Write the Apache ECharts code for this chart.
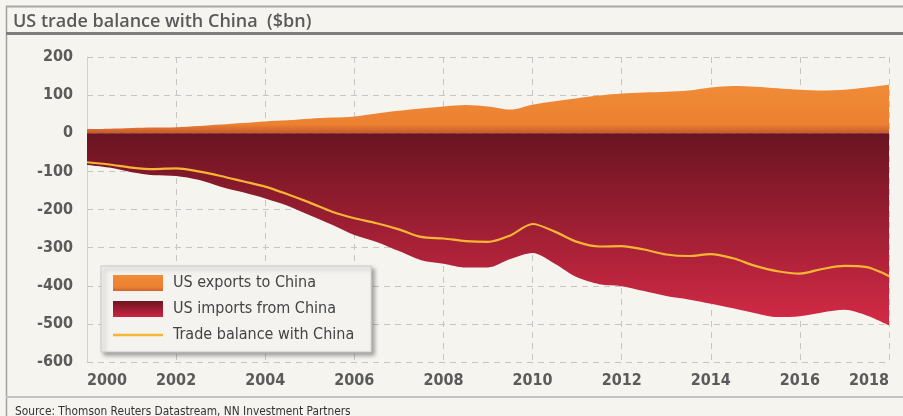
<!DOCTYPE html>
<html>
<head>
<meta charset="utf-8">
<script src="https://cdn.jsdelivr.net/npm/echarts@6/dist/echarts.min.js"></script>
<style>
html,body{margin:0;padding:0;background:#f6f4ef;}
#c{width:903px;height:416px;}
</style>
</head>
<body>
<div id="c"></div>
<script>
const years = [2000,2000.5,2001,2001.5,2002,2002.5,2003,2003.5,2004,2004.5,2005,2005.5,2006,2006.5,2007,2007.5,2008,2008.5,2009,2009.5,2010,2010.5,2011,2011.5,2012,2012.5,2013,2013.5,2014,2014.5,2015,2015.5,2016,2016.5,2017,2017.5,2018];
const exportsToChina = [11,12,14,15,16,19,23,27,31,34,38,41,44,52,59,65,70,74,70,62,75,84,92,99,104,107,109,112,120,124,122,118,114,112,114,120,127];
const importsFromChina = [-83,-90,-102,-110,-112,-122,-140,-155,-171,-190,-215,-240,-267,-285,-309,-333,-342,-352,-352,-330,-314,-342,-378,-396,-401,-414,-427,-436,-447,-459,-472,-482,-480,-470,-463,-478,-504];
const tradeBalance = [-76,-82,-90,-94,-92,-100,-112,-126,-140,-160,-182,-206,-223,-236,-252,-272,-276,-283,-285,-268,-238,-258,-285,-297,-296,-305,-318,-322,-317,-328,-348,-362,-368,-356,-348,-351,-375];
const seriesNames = ['US exports to China','US imports from China','Trade balance with China'];
const titleText = 'US trade balance with China  ($bn)';
const sourceText = 'Source: Thomson Reuters Datastream, NN Investment Partners';

const pair = arr => years.map((y,i)=>[y,arr[i]]);
const G = echarts.graphic.LinearGradient;
const orangeGrad = new G(0,0,0,1,[{offset:0,color:'#f08b36'},{offset:0.82,color:'#ec8132'},{offset:1,color:'#c8592a'}]);
const crimsonGrad = new G(0,0,0,1,[{offset:0,color:'#6a1421'},{offset:1,color:'#d42a46'}]);
const cond = '"DejaVu Sans Condensed","Liberation Sans Narrow",sans-serif';

const chart = echarts.init(document.getElementById('c'));
chart.setOption({
  backgroundColor:'#f6f4ef',
  animation:false,
  title:[
    {text:titleText,left:8,top:8,textStyle:{fontFamily:'"Open Sans",sans-serif',fontSize:18,fontWeight:600,color:'#5a5a5a'}},
    {text:sourceText,left:10,top:401,textStyle:{fontFamily:cond,fontSize:11.8,fontWeight:'normal',color:'#333'}}
  ],
  graphic:[
    {type:'line',shape:{x1:6,y1:6.5,x2:903,y2:6.5},style:{stroke:'#a8a8a8',lineWidth:2},silent:true},
    {type:'line',shape:{x1:6.5,y1:6,x2:6.5,y2:416},style:{stroke:'#a0a0a0',lineWidth:1.5},silent:true},
    {type:'line',shape:{x1:6,y1:33.5,x2:903,y2:33.5},style:{stroke:'#7d7d7d',lineWidth:3},silent:true},
    {type:'line',shape:{x1:6,y1:397,x2:903,y2:397},style:{stroke:'#c2c2c2',lineWidth:2},silent:true}
  ],
  grid:{left:87,right:14,top:57,bottom:54},
  legend:{
    orient:'vertical',left:101,top:266,
    padding:[9,17,9,12],itemWidth:50,itemHeight:16,itemGap:10,
    backgroundColor:'#f4f3ef',borderColor:'#c8c8c8',borderWidth:1,
    shadowColor:'rgba(0,0,0,0.35)',shadowBlur:4,shadowOffsetX:3,shadowOffsetY:3,
    textStyle:{fontFamily:cond,fontSize:16,color:'#444',padding:[0,0,0,5]},
    data:[
      {name:seriesNames[0],icon:'rect',itemStyle:{color:new G(0,0,0,1,[{offset:0,color:'#f08b36'},{offset:0.75,color:'#ec8132'},{offset:1,color:'#d0622c'}])}},
      {name:seriesNames[1],icon:'rect',itemStyle:{color:new G(0,0,0,1,[{offset:0,color:'#6e1522'},{offset:1,color:'#cc2540'}])}},
      {name:seriesNames[2],icon:'path://M0,0 L50,0 L50,2.4 L0,2.4 Z',itemStyle:{color:'#f6b534'}}
    ]
  },
  xAxis:{
    type:'value',min:2000,max:2018,interval:2,
    axisLine:{show:false},axisTick:{show:false},
    axisLabel:{fontFamily:cond,fontSize:16,fontWeight:'bold',color:'#5b5b5b',margin:11,alignMinLabel:'left',alignMaxLabel:'right',formatter:v=>String(v)},
    splitLine:{show:true,lineStyle:{color:'#c6c6c6',type:[6,5],width:1}}
  },
  yAxis:{
    type:'value',min:-600,max:200,interval:100,
    axisLine:{show:true,lineStyle:{color:'#d0d0d0',width:1}},axisTick:{show:false},
    axisLabel:{fontFamily:cond,fontSize:16,fontWeight:'bold',color:'#5b5b5b',margin:14},
    splitLine:{show:true,lineStyle:{color:'#c6c6c6',type:[6,5],width:1}}
  },
  series:[
    {name:seriesNames[0],type:'line',data:pair(exportsToChina),smooth:0.3,symbol:'none',
     lineStyle:{width:0},itemStyle:{color:'#ee8433'},areaStyle:{color:orangeGrad,opacity:1,origin:'auto'},z:2},
    {name:seriesNames[1],type:'line',data:pair(importsFromChina),smooth:0.3,symbol:'none',
     lineStyle:{width:0},itemStyle:{color:'#a01f33'},areaStyle:{color:crimsonGrad,opacity:1,origin:'auto'},z:2},
    {name:seriesNames[2],type:'line',data:pair(tradeBalance),smooth:0.3,symbol:'none',
     lineStyle:{width:2.2,color:'#f6b534'},itemStyle:{color:'#f6b534'},z:4}
  ]
});
</script>
</body>
</html>
